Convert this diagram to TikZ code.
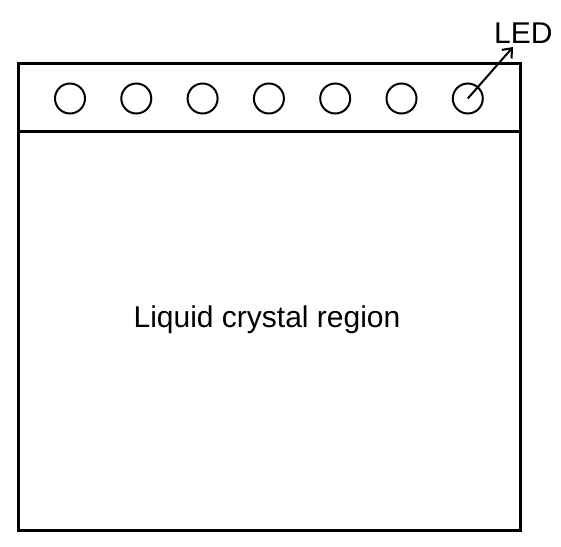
\documentclass[tikz,border=0pt]{standalone}
\usepackage{fontspec}
\setmainfont{Liberation Sans}
\usetikzlibrary{arrows.meta}
\begin{document}
\begin{tikzpicture}[x=1pt,y=-1pt,
  frame/.style={draw=black,line width=3pt},
  led/.style={circle,draw=black,line width=2pt,minimum size=30pt,inner sep=0pt},
  lbl/.style={font=\fontsize{30}{32}\selectfont,inner sep=0pt}]
\useasboundingbox (0,0) rectangle (561,546);
\draw[frame] (18.5,63) rectangle (520,530);
\draw[frame] (18.5,131) -- (520,131);
\foreach \i/\x in {1/70,2/136.3,3/202.6,4/268.9,5/335.2,6/401.5,7/467.8}
  \node[led] (c\i) at (\x,98.5) {};
\node[lbl,anchor=base west] (led) at (494,43) {LED};
\coordinate (tip) at (513,47);
\draw[line width=2pt,-{Straight Barb[length=8pt,width=13pt,line width=2pt]}] (c7.center) -- (tip);
\node[lbl,anchor=base] (lc) at (267,327) {Liquid crystal region};
\end{tikzpicture}
\end{document}
